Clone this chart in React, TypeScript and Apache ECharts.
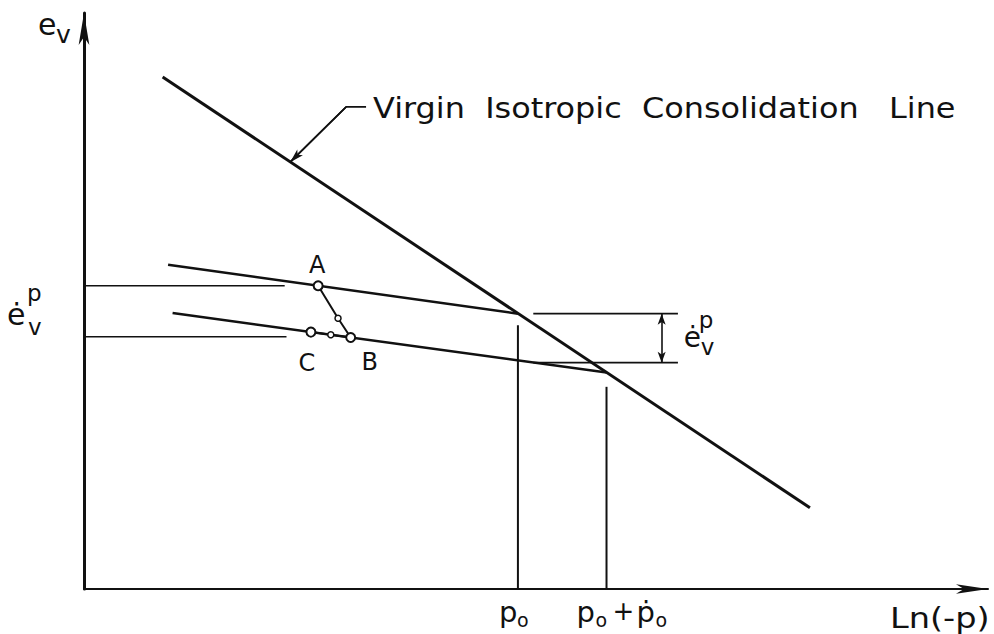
import React, { useEffect, useRef } from "react";
import * as echarts from "echarts";

// Axis extents (diagram units): Ln(-p) horizontally, e_v vertically
const X_MAX = 100;
const Y_MAX = 100;

// Virgin isotropic consolidation line
const vicl = [
  [8.7, 88.9],
  [80.3, 14.1],
];
// Swelling lines through p_o and p_o + ṗ_o
const swellingUpper = [
  [9.3, 56.3],
  [48.0, 47.8],
];
const swellingLower = [
  [9.8, 47.9],
  [57.8, 37.6],
];
// Stress paths A -> B and C -> B
const pathAB = [
  [25.9, 52.65],
  [28.1, 47.0],
  [29.5, 43.67],
];
const pathCB = [
  [25.1, 44.6],
  [27.3, 44.15],
  [29.5, 43.67],
];
const stateNames = ["A", "B", "C"];
const stateValues = [
  [25.9, 52.65],
  [29.5, 43.67],
  [25.1, 44.6],
];
const pathMarks = [
  [28.1, 47.0],
  [27.3, 44.15],
];
// Pressures marked on the Ln(-p) axis
const P_O = 48.0;
const P_O_PLUS = 57.8;
const pressureTops = [45.8, 35.1];

// Thin construction lines
const guideLines = [
  [
    [-3.5, 52.65],
    [22.2, 52.65],
  ],
  [
    [-3.2, 43.8],
    [22.4, 43.8],
  ],
  [
    [49.7, 47.8],
    [65.7, 47.8],
  ],
  [
    [49.7, 39.3],
    [65.7, 39.3],
  ],
];
const dimensionArrows = [
  [
    [-2.4, 52.65],
    [-2.4, 43.8],
  ],
  [
    [63.9, 47.8],
    [63.9, 39.3],
  ],
];
// Leader from the consolidation line to its caption
const leader = [
  [22.8, 74.1],
  [29.0, 83.7],
  [31.2, 83.7],
];
const captionText = "Virgin  Isotropic  Consolidation   Line";

const INK = "#111";
const FONT = "DejaVu Sans";

type Part = { text: string; dx: number; dy: number; size: number; align?: string; sx?: number };
type Label = { at: number[]; parts: Part[] };

export default function App() {
  const ref = useRef<HTMLDivElement>(null);

  useEffect(() => {
    if (!ref.current) return;
    const chart = echarts.init(ref.current, null, { renderer: "svg" });

    const segment = (data: number[][], width: number, clip = true) => ({
      type: "line",
      data,
      symbol: "none",
      clip,
      silent: true,
      lineStyle: { color: INK, width },
      z: 3,
    });

    const series: any[] = [
      segment(vicl, 3),
      segment(swellingUpper, 2.5),
      segment(swellingLower, 2.5),
      segment(pathAB, 2),
      segment(pathCB, 2),
      ...guideLines.map((g) => segment(g, 1.6, false)),
      segment(
        [
          [P_O, 0],
          [P_O, pressureTops[0]],
        ],
        2
      ),
      segment(
        [
          [P_O_PLUS, 0],
          [P_O_PLUS, pressureTops[1]],
        ],
        2
      ),
      {
        ...segment(leader, 1.6),
        markLine: {
          silent: true,
          symbol: ["arrow", "none"],
          symbolSize: [6, 14],
          label: { show: false },
          lineStyle: { type: "solid", color: INK, width: 1.6 },
          data: [[{ coord: leader[0] }, { coord: leader[1] }]],
        },
      },
      {
        type: "line",
        data: [],
        symbol: "none",
        silent: true,
        markLine: {
          silent: true,
          symbol: ["arrow", "arrow"],
          symbolSize: [6, 11],
          label: { show: false },
          lineStyle: { type: "solid", color: INK, width: 1.6 },
          data: dimensionArrows.map(([a, b]) => [{ coord: a }, { coord: b }]),
        },
      },
      {
        type: "scatter",
        silent: true,
        symbol: "circle",
        symbolSize: 9,
        itemStyle: { color: "#fff", borderColor: INK, borderWidth: 2, opacity: 1 },
        data: stateValues.map((v, i) => ({ name: stateNames[i], value: v })),
        z: 5,
      },
      {
        type: "scatter",
        silent: true,
        symbol: "circle",
        symbolSize: 6,
        itemStyle: { color: "#fff", borderColor: INK, borderWidth: 1.5, opacity: 1 },
        data: pathMarks,
        z: 5,
      },
    ];

    chart.setOption({
      animation: false,
      backgroundColor: "#fff",
      grid: { left: 84, right: 6, top: 13, bottom: 45 },
      xAxis: {
        type: "value",
        min: 0,
        max: X_MAX,
        axisLine: {
          show: true,
          symbol: ["none", "arrow"],
          symbolSize: [7, 32],
          lineStyle: { color: INK, width: 2 },
        },
        axisTick: { show: false },
        axisLabel: { show: false },
        splitLine: { show: false },
      },
      yAxis: {
        type: "value",
        min: 0,
        max: Y_MAX,
        axisLine: {
          show: true,
          symbol: ["none", "arrow"],
          symbolSize: [8, 32],
          lineStyle: { color: INK, width: 3 },
        },
        axisTick: { show: false },
        axisLabel: { show: false },
        splitLine: { show: false },
      },
      series,
    });

    // Lettering, anchored to points of the diagram
    const labels: Label[] = [
      {
        at: [0, Y_MAX],
        parts: [
          { text: "e", dx: -46, dy: 11, size: 30 },
          { text: "v", dx: -28, dy: 21, size: 25 },
        ],
      },
      {
        at: [0, (52.65 + 43.8) / 2],
        parts: [
          { text: "ė", dx: -77, dy: 3, size: 30 },
          { text: "p", dx: -57, dy: -18, size: 23 },
          { text: "v", dx: -56, dy: 16, size: 23 },
        ],
      },
      {
        at: [63.9, (47.8 + 39.3) / 2],
        parts: [
          { text: "ė", dx: 22, dy: -1, size: 28 },
          { text: "p", dx: 37, dy: -18, size: 23 },
          { text: "v", dx: 39, dy: 9, size: 23 },
        ],
      },
      { at: stateValues[0], parts: [{ text: "A", dx: -1, dy: -21, size: 24, align: "center" }] },
      { at: stateValues[1], parts: [{ text: "B", dx: 19, dy: 25, size: 24, align: "center" }] },
      { at: stateValues[2], parts: [{ text: "C", dx: -4, dy: 31, size: 24, align: "center" }] },
      {
        at: [P_O, 0],
        parts: [
          { text: "p", dx: -19, dy: 23, size: 29 },
          { text: "o", dx: -1, dy: 31, size: 19 },
        ],
      },
      {
        at: [P_O_PLUS, 0],
        parts: [
          { text: "p", dx: -30, dy: 23, size: 29 },
          { text: "o", dx: -11, dy: 31, size: 19 },
          { text: "+", dx: 6, dy: 22, size: 26 },
          { text: "ṗ", dx: 30, dy: 23, size: 29 },
          { text: "o", dx: 49, dy: 31, size: 19 },
        ],
      },
      { at: [X_MAX, 0], parts: [{ text: "Ln(-p)", dx: -98, dy: 29, size: 28, sx: 1.2 }] },
      { at: leader[2], parts: [{ text: captionText, dx: 7, dy: 1, size: 29, sx: 1.1 }] },
    ];

    const graphic: any[] = [];
    labels.forEach((lab) => {
      const [px, py] = chart.convertToPixel({ gridIndex: 0 }, lab.at) as number[];
      lab.parts.forEach((p) => {
        graphic.push({
          type: "text",
          x: px + p.dx,
          y: py + p.dy,
          scaleX: p.sx || 1,
          silent: true,
          style: {
            text: p.text,
            fontSize: p.size,
            fontFamily: FONT,
            fill: INK,
            align: p.align || "left",
            verticalAlign: "middle",
          },
        });
      });
    });
    chart.setOption({ graphic });

    return () => chart.dispose();
  }, []);

  return (
    <div
      ref={ref}
      style={{ position: "fixed", left: 0, top: 0, width: 994, height: 634, background: "#fff" }}
    />
  );
}
